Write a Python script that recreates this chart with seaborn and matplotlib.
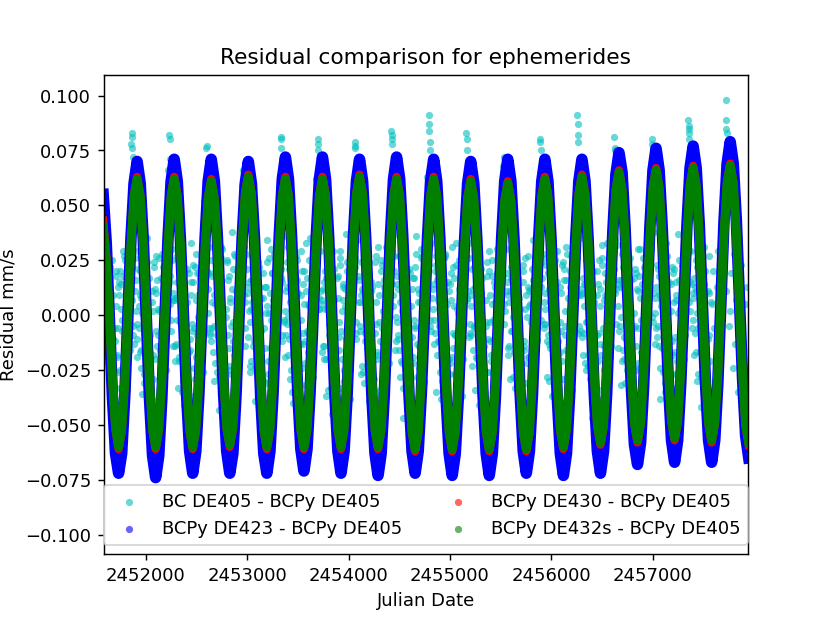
import numpy as np
import seaborn as sns
import matplotlib.pyplot as plt

first_peak = 2451917   # JD of the first maximum of the curves
year = 365.25

# curves, one reading per month, starting 11 months before first_peak
blue_res = [
    .055, .033, -.001, -.037, -.063,
    -.072, -.063, -.037, -.001, .035, .060, .070, .060, .034, -.002, -.038, -.064,
    -.074, -.064, -.038, -.002, .035, .061, .071, .061, .035, -.001, -.036, -.062,
    -.072, -.062, -.036, -.001, .035, .061, .071, .061, .035, -.001, -.036, -.062,
    -.072, -.063, -.037, -.001, .035, .060, .070, .060, .035, -.001, -.037, -.063,
    -.072, -.062, -.036, .000, .036, .062, .072, .062, .036, .001, -.035, -.061,
    -.071, -.061, -.035, .001, .036, .062, .072, .062, .036, .000, -.036, -.062,
    -.072, -.062, -.036, -.001, .035, .061, .071, .061, .035, -.001, -.037, -.063,
    -.073, -.063, -.037, -.001, .036, .062, .072, .062, .036, .000, -.036, -.062,
    -.072, -.062, -.036, -.001, .035, .061, .071, .061, .035, -.001, -.037, -.063,
    -.073, -.063, -.037, -.002, .034, .060, .070, .060, .034, -.002, -.037, -.063,
    -.073, -.063, -.037, -.001, .035, .061, .071, .061, .035, -.001, -.036, -.062,
    -.072, -.062, -.036, -.001, .035, .061, .071, .061, .035, -.001, -.037, -.063,
    -.073, -.063, -.037, -.001, .035, .061, .071, .061, .035, -.001, -.036, -.062,
    -.072, -.062, -.036, .001, .038, .064, .074, .065, .039, .003, -.033, -.059,
    -.068, -.058, -.032, .004, .040, .066, .076, .066, .040, .005, -.031, -.057,
    -.067, -.057, -.031, .005, .041, .067, .077, .067, .041, .005, -.031, -.057,
    -.067, -.057, -.031, .006, .043, .069, .079, .069, .043, .007, -.029, -.055,
    -.065,
]
red_res = [
    .043, .027, .000, -.030, -.052,
    -.061, -.053, -.030, .001, .032, .055, .063, .055, .032, .001, -.030, -.053,
    -.061, -.053, -.030, .001, .032, .055, .063, .055, .032, .001, -.030, -.053,
    -.061, -.053, -.030, .001, .031, .054, .062, .054, .031, .001, -.029, -.052,
    -.060, -.052, -.029, .002, .033, .056, .064, .056, .032, .002, -.029, -.053,
    -.061, -.053, -.030, .001, .032, .055, .063, .055, .032, .001, -.030, -.053,
    -.061, -.053, -.030, .001, .032, .055, .063, .055, .032, .001, -.030, -.053,
    -.061, -.053, -.029, .002, .032, .056, .064, .056, .032, .002, -.029, -.053,
    -.061, -.053, -.030, .001, .032, .055, .063, .055, .031, .001, -.030, -.054,
    -.062, -.054, -.030, .001, .031, .055, .063, .055, .031, .001, -.030, -.054,
    -.062, -.054, -.031, .000, .031, .054, .062, .054, .031, .000, -.031, -.054,
    -.062, -.054, -.031, -.001, .030, .053, .061, .053, .030, -.001, -.031, -.054,
    -.062, -.054, -.030, .001, .031, .055, .063, .055, .032, .001, -.030, -.053,
    -.061, -.053, -.029, .002, .032, .056, .064, .056, .033, .003, -.028, -.051,
    -.059, -.051, -.027, .004, .034, .058, .066, .058, .035, .004, -.027, -.050,
    -.058, -.050, -.026, .005, .035, .059, .067, .059, .036, .005, -.026, -.049,
    -.057, -.049, -.025, .006, .036, .060, .068, .060, .036, .005, -.026, -.050,
    -.058, -.050, -.026, .006, .037, .061, .069, .061, .037, .005, -.027, -.051,
    -.059,
]
green_res = [
    .040, .025, .000, -.029, -.051,
    -.060, -.052, -.030, .001, .032, .054, .062, .054, .032, .001, -.030, -.052,
    -.060, -.052, -.030, .001, .032, .054, .062, .054, .032, .001, -.030, -.052,
    -.060, -.052, -.030, .001, .031, .053, .061, .053, .031, .001, -.029, -.051,
    -.059, -.051, -.029, .002, .033, .055, .063, .055, .032, .002, -.029, -.052,
    -.060, -.052, -.030, .001, .032, .054, .062, .054, .032, .001, -.030, -.052,
    -.060, -.052, -.030, .001, .032, .054, .062, .054, .032, .001, -.030, -.052,
    -.060, -.052, -.029, .002, .032, .055, .063, .055, .032, .002, -.029, -.052,
    -.060, -.052, -.030, .001, .032, .054, .062, .054, .031, .001, -.030, -.053,
    -.061, -.053, -.030, .001, .031, .054, .062, .054, .031, .001, -.030, -.053,
    -.061, -.053, -.031, .000, .031, .053, .061, .053, .031, .000, -.031, -.053,
    -.061, -.053, -.031, -.001, .030, .052, .060, .052, .030, -.001, -.031, -.053,
    -.061, -.053, -.030, .001, .031, .054, .062, .054, .032, .001, -.030, -.052,
    -.060, -.052, -.029, .002, .032, .055, .063, .055, .033, .003, -.028, -.050,
    -.058, -.050, -.027, .004, .034, .057, .065, .057, .035, .004, -.027, -.049,
    -.057, -.049, -.026, .005, .035, .058, .066, .058, .036, .005, -.026, -.048,
    -.056, -.048, -.025, .006, .036, .059, .067, .059, .036, .005, -.026, -.049,
    -.057, -.049, -.026, .006, .037, .060, .068, .060, .037, .005, -.027, -.050,
    -.058,
]

# BC DE405 points, 30 per year, one row per yearly cycle (row starts at a maximum), units 1e-3 mm/s
# first row begins 4 steps in, last row is cut at the right edge
cyan_rows = [
    [12, -8, 21, -15, 3, -27, -41, -52, -6, 18, -19, 9, -33, 14, -2, 27, -24, 6, -11, 31, 45, 58, 22, -9, 63, 16],
    [-4, 29, -17, 8, -36, 19, -1, -22, 35, -13, -44, -50, 11, -29, 24, -7, 16, -38, 2, -18, 28, -9, 13, -25, 40, 66, 49, 5, 71, -14],
    [7, -21, 15, -33, 26, -3, -16, 10, -41, 4, -28, -55, 19, -11, 33, -37, -6, 22, -19, 9, -31, 17, -2, 36, 52, 47, 61, 12, 68, -8],
    [-12, 18, -30, 5, 23, -9, -43, 14, -20, 30, -36, -49, -1, 25, -15, 6, -27, 38, -12, -34, 11, 20, -23, 2, 43, 59, 28, -6, 55, 21],
    [10, -26, 3, 27, -14, -39, 17, -7, 24, -46, -18, -53, 8, -30, 13, 34, -21, 1, -42, 19, -5, 28, -16, 9, 37, 50, 64, 15, 60, -3],
    [-19, 13, 31, -11, 6, -35, 22, -24, -2, 16, -40, -51, -13, 29, -8, 20, -32, 11, -17, 4, 35, -28, 14, -6, 48, 62, 36, 3, 73, 11],
    [5, -14, 20, -37, 12, -4, 32, -20, -45, 7, -25, -56, 17, -10, 26, -33, 2, 14, -26, 37, -9, 8, -38, 24, 41, 57, 53, -11, 66, 18],
    [-7, 24, -23, 11, -31, 28, -15, 3, 19, -42, 13, -48, -29, 6, -18, 31, -3, -36, 23, -13, 16, -21, 29, -4, 39, 54, 60, 9, 70, -16],
    [14, -9, 27, -28, 2, -47, 9, 25, -17, -33, 21, -54, 4, -22, 17, -6, 36, -40, 10, -15, 26, -1, -30, 18, 46, 63, 31, -2, 62, 8],
    [-2, 20, -35, 16, -12, 24, -38, 12, -5, 28, -43, -50, 15, -27, 7, -19, 22, -9, 33, -29, 1, -14, 19, -37, 44, 58, 51, 7, 67, -10],
    [9, -23, 12, -6, 33, -20, 4, -41, 21, -11, -34, -57, -3, 18, -26, 29, -12, 5, -35, 15, -22, 30, -7, 13, 40, 55, 65, -4, 58, 19],
    [-15, 6, -29, 22, -1, 14, -33, 19, -24, 8, -46, -52, 23, -16, 3, -31, 27, -19, 12, -3, 34, -25, 6, 21, 38, 49, 42, 13, 61, -6],
    [3, 26, -12, -30, 17, -8, 29, -36, 5, -22, 15, -53, -17, 10, -40, 24, -5, 16, -28, 8, -13, 27, -34, 2, 47, 60, 56, -8, 69, 12],
    [-10, 17, 4, -25, 30, -18, -3, 14, -47, 20, -30, -49, 9, -21, 25, -13, 32, -44, 7, 19, -9, -27, 15, -16, 42, 64, 38, 10, 74, 4],
    [16, -5, -32, 13, -20, 35, -11, -26, 8, 26, -39, -55, -6, 21, -14, 11, -24, 30, -2, -37, 22, -12, 4, 28, 45, 56, 62, -1, 63, -13],
    [-6, 23, 10, -38, 7, -15, 20, -31, 33, -4, -28, -50, 14, -33, 19, -10, 9, -21, 37, -8, -26, 15, 25, -20, 50, 61, 45, 6, 70, 14],
    [8, -18, 25, 1, -27, 12, -42, 18, -9, 31, -19, -54, -11, 27, -36, 5, 20, -6, -30, 13, 29, -17, -3, 34, 43, 67, 58, 11, 72, -5],
    [2, 19, -24, 28, -13, 7, -35, 16, -19, 23, -41, -52, 5, -28, 13],
]
# second pass of BC points, half a step later than cyan_rows
cyan_rows_b = [
    [-3, 17, -22, 8, -30, 25, -11, -47, 4, -18, 13, -26, 20, -7, 29, -15, 1, -34, 16, -9, 24, 38, -5, 44, 11, -19],
    [21, -6, 9, -24, 14, -31, 6, -13, -28, 17, -38, -45, 2, 22, -20, 10, -9, 26, -16, 3, -27, 12, 32, -11, 5, 49, 18, -2, 30, 7],
    [-14, 8, 27, -19, -2, 12, -35, 20, -8, -23, 6, -51, -16, 15, -4, 23, -29, 7, 19, -13, 2, -21, 16, 27, -7, 41, 53, 19, -6, 25],
    [6, -17, -5, 20, -26, 9, -12, 31, -33, 1, -22, -48, 24, -9, 18, -25, 12, -3, 28, -18, 8, -32, 23, -1, 34, 46, 9, -14, 39, -10],
    [15, -3, -21, 11, 28, -24, 5, -14, 22, -37, 8, -53, -6, 13, -31, 4, 26, -15, -2, 19, -23, 10, -8, 30, 36, 55, 21, -9, 48, 2],
    [-9, 24, -1, -29, 7, 18, -40, 11, -3, 25, -19, -47, 9, -24, 14, -12, 33, -7, 5, -28, 17, -14, 27, -5, 29, 47, 35, 8, 42, -17],
    [12, -20, 17, 3, -34, 13, -6, -27, 29, -15, -36, -50, 18, -3, 23, -20, 7, -30, 12, 24, -10, 4, -25, 16, 33, 58, 26, -3, 51, 6],
    [-5, 9, -26, 30, -12, -2, 23, -39, 7, 15, -29, -52, -8, 27, -17, 9, -34, 20, -6, 13, -18, 31, 1, -22, 45, 52, 14, 20, 37, -12],
    [18, -11, 6, -21, 24, -33, 14, 2, -26, -10, 19, -46, 12, -19, -5, 28, -13, 6, -24, 30, -4, 18, -31, 9, 35, 44, 59, -7, 49, 3],
    [-13, 27, -18, 7, -5, 19, -30, -9, 26, -41, 5, -55, -20, 14, 31, -8, 17, -27, 3, -16, 25, -9, 12, -20, 42, 60, 27, 11, 33, -8],
    [4, -16, 22, -34, 13, -7, 28, -22, 10, -31, -14, -48, 7, -26, 20, -3, -18, 25, -11, 6, -30, 19, -4, 26, 32, 53, 46, 2, 44, 15],
    [-18, 11, -7, 16, -28, 24, -2, -32, 17, 3, -39, -51, 15, -12, 9, -22, 13, 4, -33, 21, -7, -15, 29, -12, 37, 57, 24, 17, 52, -4],
    [10, -28, 19, -13, 6, -37, 21, -5, -19, 29, -12, -54, -3, 23, -29, 16, -9, 31, -17, 2, 20, -31, 8, 14, 48, 45, 61, -5, 40, 9],
    [-8, 14, -22, 25, -3, 10, -29, 22, -40, 6, -24, -47, 20, -8, 12, -34, 26, -14, 9, -21, 33, -6, -19, 24, 36, 59, 34, 12, 55, -15],
    [13, -1, 28, -16, -31, 20, -10, 5, -22, 16, -43, -52, 1, 19, -25, 30, -6, -17, 14, -30, 8, 24, -13, 3, 44, 50, 66, -3, 46, 8],
    [-10, 21, -14, 9, 17, -26, 4, -35, 27, -8, -32, -49, 22, -18, 6, -27, 15, 1, 25, -14, -24, 11, 20, -9, 39, 62, 29, 15, 57, 10],
    [17, -8, 11, -30, 22, -17, 3, -26, 14, -37, -15, -50, 10, -21],
]
# third pass, a quarter step later than cyan_rows
cyan_rows_c = [
    [5, -19, 14, -4, 22, -31, 9, -38, -12, 20, -6, 15, -25, 3, 18, -10, 25, -21, -3, 12, -16, 33, 7, -13, 26, 2],
    [-11, 4, 20, -16, 1, -27, 15, -6, 24, -33, -9, -42, 6, -18, 12, 27, -14, 3, -29, 17, -5, 22, -20, 9, 30, 44, 15, -7, 25, 10],
    [8, -13, -2, 25, -21, 6, 18, -30, 2, -11, 21, -44, -17, 9, -7, 15, -24, 28, -9, -1, 19, -15, 4, -26, 35, 51, 20, 1, 31, -9],
    [-6, 19, 9, -22, 14, -3, -28, 10, 26, -15, -35, -46, 3, 16, -23, 8, -5, 21, -18, 27, -12, 5, 14, -8, 40, 47, 31, 6, 28, 13],
    [2, -23, 16, 6, -12, 23, -19, 4, -34, 13, -7, -49, 19, -15, 1, 24, -27, 10, 30, -20, 7, -11, 22, -3, 33, 52, 17, -12, 36, -2],
    [11, -4, -18, 21, -25, 3, 14, -11, 27, -29, 10, -44, -2, 20, -13, 5, -22, 17, -8, 25, -17, 2, -28, 13, 38, 42, 48, 3, 29, 7],
    [-14, 15, 3, -20, 18, -9, 26, -33, -1, 21, -24, -51, 8, -16, 29, -7, 13, -25, 4, -11, 20, 9, -19, 6, 30, 49, 22, -8, 34, 16],
    [6, -27, 12, 19, -8, 15, -23, 6, -37, 11, -17, -47, 24, -4, -20, 14, -12, 25, -30, 2, 11, -22, 18, -6, 41, 55, 29, 4, 27, -1],
    [-3, 12, -16, 28, -22, 7, 1, -29, 20, -8, -31, -53, -10, 17, -2, 22, -28, 12, -14, 6, 27, -19, 3, 15, 37, 48, 23, -5, 33, 12],
    [14, -8, 23, -12, 9, -26, 16, -3, -19, 27, -38, -45, 11, -22, 19, -15, 4, -9, 23, -25, 12, -3, -17, 21, 31, 51, 40, 8, 26, -4],
    [-9, 21, -5, 13, -19, 26, -12, -24, 4, 17, -27, -50, -5, 24, -11, 9, -21, 18, -2, 13, -14, 25, -9, -3, 43, 46, 18, 5, 30, 11],
    [9, -14, 17, -7, 23, -17, 8, -30, 14, -4, -33, -46, 20, -14, 26, -1, -19, 11, 5, -24, 16, -7, 21, -11, 35, 54, 37, -2, 28, 6],
    [-4, 23, -9, 12, -15, 3, 19, -28, 25, -12, -36, -52, 13, -7, -21, 21, 2, -16, 28, -9, 13, -20, 5, 19, 39, 49, 26, 9, 35, -7],
    [10, -18, 14, -3, 20, -23, 6, 16, -32, 9, -20, -49, -9, 14, 4, -18, 23, -6, -25, 15, -11, 18, 7, -14, 42, 53, 21, -4, 32, 14],
    [-7, 16, -21, 22, -10, 11, -25, 24, -13, 3, -35, -47, 17, -5, 12, -22, 18, 8, -17, 26, -2, -10, 20, -5, 36, 57, 30, 10, 38, 1],
    [13, -5, 18, -24, 4, 22, -16, -6, 11, -29, 15, -51, 2, -12, 21, -17, 7, -27, 16, 3, -19, 23, -8, 17, 40, 50, 33, 2, 29, -6],
    [-2, 13, -17, 22, -6, 15, -28, 9, -15, 20, -33, -47, 11, -9, 6],
]

# the short strings of BC points above each maximum
spike_jd = [2451862, 2451866, 2451858, 2451870, 2451874,
            2452236, 2452240, 2452244,
            2452602, 2452598,
            2452962,
            2453330, 2453334, 2453338,
            2453695, 2453699, 2453703,
            2454060, 2454064, 2454068,
            2454420, 2454424, 2454428, 2454432,
            2454792, 2454795, 2454798, 2454801, 2454804,
            2455160, 2455163, 2455166,
            2455530, 2455524,
            2455885, 2455889, 2455893,
            2456255, 2456258, 2456262, 2456266,
            2456620, 2456624, 2456628,
            2456988, 2456992, 2456996,
            2457348, 2457351, 2457354, 2457357, 2457360,
            2457716, 2457720, 2457723, 2457726]
spike_res = [.083, .081, .078, .076, .072,
             .082, .080, .071,
             .077, .076,
             .066,
             .081, .080, .076,
             .080, .078, .075,
             .079, .077, .076,
             .084, .082, .080, .078,
             .091, .087, .084, .079, .075,
             .083, .080, .075,
             .072, .068,
             .080, .079, .075,
             .091, .087, .082, .079,
             .081, .076, .075,
             .080, .078, .076,
             .089, .086, .085, .083, .080,
             .098, .089, .085, .083]

labels = ['BC DE405 - BCPy DE405', 'BCPy DE423 - BCPy DE405',
          'BCPy DE430 - BCPy DE405', 'BCPy DE432s - BCPy DE405']

curve_jd = first_peak + year / 12 * np.arange(-11, len(blue_res) - 11)

cyan_jd, cyan_res = [], []
for rows, shift in [(cyan_rows, 0.0), (cyan_rows_b, 0.5), (cyan_rows_c, 0.25)]:
    for r, row in enumerate(rows):
        j0 = (4 if r == 0 else 0) + shift
        peak = first_peak + year * (r - 1)
        cyan_jd += list(peak + year / 30 * (j0 + np.arange(len(row))))
        cyan_res += [v / 1000 for v in row]
cyan_jd += spike_jd
cyan_res += spike_res

fig, ax = plt.subplots(figsize=(6.4, 4.8), dpi=129.8)

sns.scatterplot(x=cyan_jd, y=cyan_res, color='c', alpha=0.6, s=16, linewidth=0,
                label=labels[0], ax=ax)

for res, col, lw, lab in [(blue_res, 'b', 6.4, labels[1]),
                          (red_res, 'r', 4.6, labels[2]),
                          (green_res, 'g', 5.0, labels[3])]:
    sns.scatterplot(x=curve_jd, y=res, color=col, alpha=0.6, s=16, linewidth=0,
                    label=lab, ax=ax, zorder=1)
    sns.lineplot(x=curve_jd, y=res, color=col, linewidth=lw, estimator=None,
                 solid_joinstyle='round', ax=ax)

ax.set_xlim(2451589, 2457933)
ax.set_ylim(-0.109, 0.1095)
ax.ticklabel_format(axis='x', useOffset=False, style='plain')
ax.set_title('Residual comparison for ephemerides')
ax.set_xlabel('Julian Date')
ax.set_ylabel('Residual mm/s')
ax.legend(loc='lower left', bbox_to_anchor=(0, 0.02, 1, 0.1), mode='expand',
          ncol=2, borderaxespad=0)

fig.savefig('out.png', dpi=129.8)
